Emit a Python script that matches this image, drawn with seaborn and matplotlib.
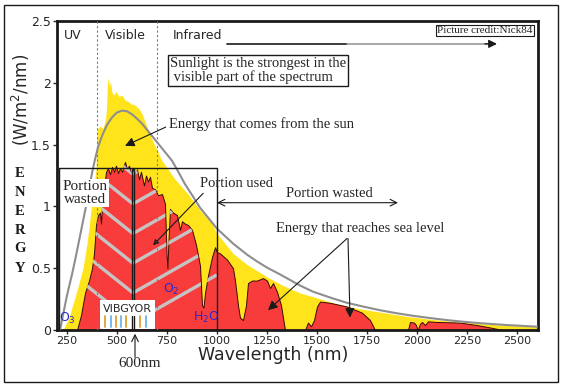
import matplotlib
matplotlib.use("Agg")
import matplotlib.pyplot as plt
import seaborn as sns
from matplotlib.patches import Rectangle

# ---------------- data ----------------
sun_wl = [230, 260, 300, 330, 350, 365, 380, 395, 400, 415, 430, 442, 448, 452, 457, 462,
          468, 475, 485, 495, 510, 525, 540, 555, 570, 590, 610, 625, 670, 725, 790, 855,
          915, 975, 1000, 1080, 1150, 1250, 1330, 1415, 1500, 1580, 1700, 1815, 1950,
          2050, 2200, 2400, 2600]
sun_energy = [0.0, 0.10, 0.32, 0.50, 0.70, 0.90, 1.12, 1.30, 1.62, 1.65, 1.63, 1.70, 1.80,
              2.00, 2.04, 1.97, 2.01, 1.92, 1.90, 1.93, 1.89, 1.90, 1.86, 1.85, 1.83, 1.82,
              1.79, 1.75, 1.56, 1.37, 1.22, 1.10, 0.97, 0.86, 0.78, 0.62, 0.53, 0.43, 0.36,
              0.30, 0.26, 0.22, 0.175, 0.145, 0.11, 0.09, 0.065, 0.042, 0.025]

sea_wl = [300, 320, 340, 360, 375, 385, 395, 405, 415, 420, 425, 435, 445, 455, 465, 475,
          485, 495, 505, 515, 525, 540, 550, 560, 570, 580, 590, 600, 610, 620, 635, 645,
          655, 665, 675, 690, 705, 725, 740, 748, 752, 758, 765, 780, 800, 815, 825, 840,
          855, 875, 895, 915, 925, 932, 940, 955, 975, 990, 1000, 1015, 1050, 1080, 1090,
          1105, 1115, 1130, 1145, 1155, 1175, 1200, 1230, 1250, 1265, 1280, 1300, 1320,
          1340, 1440, 1455, 1470, 1485, 1500, 1515, 1565, 1650, 1725, 1765, 1790, 1955,
          1965, 1985, 1995, 2003, 2015, 2025, 2040, 2055, 2100, 2215, 2300, 2380, 2430]
sea_energy = [0.0, 0.12, 0.30, 0.40, 0.50, 0.62, 0.85, 0.93, 0.95, 0.86, 1.00, 1.15, 1.28,
              1.31, 1.26, 1.32, 1.28, 1.33, 1.27, 1.31, 1.28, 1.36, 1.30, 1.33, 1.27, 1.31,
              1.26, 1.30, 1.22, 1.28, 1.17, 1.25, 1.20, 1.24, 1.15, 1.14, 1.09, 1.10, 1.02,
              0.60, 0.50, 0.75, 0.98, 0.95, 0.93, 0.81, 0.88, 0.86, 0.85, 0.81, 0.69, 0.52,
              0.20, 0.18, 0.30, 0.44, 0.59, 0.67, 0.63, 0.62, 0.57, 0.50, 0.40, 0.20, 0.10,
              0.08, 0.20, 0.38, 0.40, 0.40, 0.42, 0.40, 0.34, 0.38, 0.31, 0.20, 0.0, 0.0,
              0.06, 0.03, 0.08, 0.19, 0.23, 0.22, 0.19, 0.14, 0.08, 0.0, 0.0, 0.065, 0.06,
              0.04, 0.0, 0.05, 0.065, 0.04, 0.07, 0.065, 0.06, 0.04, 0.016, 0.0]

bb_wl = [215, 230, 250, 275, 295, 310, 330, 345, 360, 375, 390, 405, 425, 450, 475, 500,
         525, 550, 575, 600, 625, 660, 690, 730, 775, 810, 840, 880, 915, 960, 1000, 1040,
         1080, 1150, 1200, 1250, 1315, 1415, 1480, 1580, 1650, 1730, 1815, 1900, 1980,
         2050, 2150, 2230, 2315, 2450, 2600]
bb_energy = [0.0, 0.12, 0.28, 0.45, 0.60, 0.72, 0.88, 1.00, 1.14, 1.27, 1.38, 1.48, 1.57,
             1.66, 1.72, 1.76, 1.775, 1.77, 1.745, 1.71, 1.67, 1.60, 1.54, 1.46, 1.37, 1.27,
             1.18, 1.08, 0.99, 0.90, 0.82, 0.76, 0.70, 0.61, 0.555, 0.505, 0.45, 0.36, 0.31,
             0.255, 0.22, 0.19, 0.16, 0.135, 0.115, 0.10, 0.08, 0.067, 0.055, 0.04, 0.027]

x_ticks = [250, 500, 750, 1000, 1250, 1500, 1750, 2000, 2250, 2500]
y_ticks = [0, 0.5, 1, 1.5, 2, 2.5]
y_tick_labels = ["0", "0.5", "1", "1.5", "2", "2.5"]
chevron_vertices = [1.26, 1.02, 0.78, 0.54, 0.30, 0.06]
region_labels = ["UV", "Visible", "Infrared"]
energy_letters = ["E", "N", "E", "R", "G", "Y"]

# ---------------- styling ----------------
YELLOW = "#ffe41c"
RED = "#f83c3c"
GRAY = "#8e8e8e"
BLUE = "#2a2ac8"
SERIF = "Liberation Serif"
FS = 10.5

sns.set_theme(style="white")
plt.rcParams["font.family"] = ["DejaVu Sans"]

W, H = 563, 387
fig = plt.figure(figsize=(W / 100, H / 100), dpi=100)
ax = fig.add_axes([57 / W, 57 / H, 481 / W, 309 / H])

# yellow: energy from the sun
ax.fill_between(sun_wl, sun_energy, color=YELLOW, lw=0, zorder=1)
# red: energy at sea level
red = ax.fill_between(sea_wl, sea_energy, facecolor=RED, edgecolor="#3a0a0a", lw=0.7, zorder=2)
# gray: blackbody curve
sns.lineplot(x=bb_wl, y=bb_energy, ax=ax, color=GRAY, lw=1.5, sort=False, zorder=4)

# chevron stripes clipped to the red area
red_path = red.get_paths()[0]
xc = 580
for v in chevron_vertices:
    for xe, slope in ((250, 0.00129), (1000, 0.00092)):
        ln, = ax.plot([xc, xe], [v, v + slope * abs(xe - xc)], color="#c4c4c4",
                      lw=2.4, solid_capstyle="butt", zorder=3)
        ln.set_clip_path(red_path, red.get_transform())

# dotted region boundaries
for xv in (400, 700):
    ax.axvline(xv, color="#7a7a7a", lw=0.8, ls=(0, (2, 2)), zorder=3.5)

# box for used/wasted portions
ax.plot([210, 210, 1000, 1000], [0, 1.31, 1.31, 0], color="k", lw=1, zorder=5)
for xv in (573, 586):
    ax.plot([xv, xv], [0, 1.31], color="k", lw=1, zorder=5)

ax.set_xlim(200, 2605)
ax.set_ylim(0, 2.5)
ax.set_xticks(x_ticks)
ax.set_yticks(y_ticks)
ax.set_yticklabels(y_tick_labels)
ax.tick_params(axis="x", labelsize=8, length=3, width=1, direction="out", pad=1.5, bottom=True)
ax.tick_params(axis="y", labelsize=9, length=3, width=1, direction="out", pad=1.5, left=True)
for s in ax.spines.values():
    s.set_color("k")
    s.set_linewidth(2)
ax.set_xlabel("")
ax.set_ylabel("")

# top region labels
for lab, xv in zip(region_labels, (280, 540, 900)):
    ax.text(xv, 2.38, lab, ha="center", va="center", fontsize=9, zorder=6)
ax.plot([1050, 1650], [2.315, 2.315], color="k", lw=1.2, zorder=6)
ax.plot([1650, 2350], [2.315, 2.315], color="#9a9a9a", lw=1.2, zorder=6)
ax.annotate("", xy=(2400, 2.315), xytext=(2340, 2.315),
            arrowprops=dict(arrowstyle="-|>", color="k", lw=1.0, mutation_scale=12,
                            shrinkA=0, shrinkB=0), zorder=6)

ax.text(2340, 2.425, "Picture credit:Nick84", ha="center", va="center", fontsize=8,
        family=SERIF, bbox=dict(boxstyle="square,pad=0.08", fc="white", ec="k", lw=0.8), zorder=7)

ax.text(765, 2.10, "Sunlight is the strongest in the\n visible part of the spectrum",
        ha="left", va="center", fontsize=FS, family=SERIF, linespacing=1.0,
        bbox=dict(boxstyle="square,pad=0.15", fc="white", ec="k", lw=1), zorder=7)

ax.annotate("Energy that comes from the sun", xy=(540, 1.49), xytext=(760, 1.665),
            ha="left", va="center", fontsize=FS, family=SERIF, zorder=7,
            arrowprops=dict(arrowstyle="-|>", color="k", lw=0.8, mutation_scale=14,
                            shrinkA=0, shrinkB=0, relpos=(0, 0.4)))

ax.text(340, 1.11, "Portion\nwasted", ha="center", va="center", fontsize=11, family=SERIF,
        linespacing=0.95, bbox=dict(boxstyle="square,pad=0.08", fc="white", ec="none"), zorder=7)

ax.annotate("Portion used", xy=(680, 0.685), xytext=(1100, 1.185),
            ha="center", va="center", fontsize=FS, family=SERIF, zorder=7,
            arrowprops=dict(arrowstyle="-|>", color="k", lw=0.8, mutation_scale=8,
                            shrinkA=0, shrinkB=0, relpos=(0.08, 0.0), fc="none"))

ax.text(1560, 1.105, "Portion wasted", ha="center", va="center", fontsize=FS, family=SERIF, zorder=7)
ax.annotate("", xy=(1905, 1.03), xytext=(1000, 1.03),
            arrowprops=dict(arrowstyle="<->", color="k", lw=0.8, mutation_scale=12,
                            shrinkA=0, shrinkB=0), zorder=7)

ax.text(1715, 0.825, "Energy that reaches sea level", ha="center", va="center",
        fontsize=FS, family=SERIF, zorder=7)
ax.annotate("", xy=(1255, 0.16), xytext=(1650, 0.74),
            arrowprops=dict(arrowstyle="-|>", color="k", lw=0.8, mutation_scale=14,
                            shrinkA=0, shrinkB=0), zorder=7)
ax.annotate("", xy=(1665, 0.10), xytext=(1655, 0.74),
            arrowprops=dict(arrowstyle="-|>", color="k", lw=0.8, mutation_scale=14,
                            shrinkA=0, shrinkB=0), zorder=7)

# molecule labels
ax.text(250, 0.09, "O$_3$", color=BLUE, fontsize=9, ha="center", va="center", zorder=7)
ax.text(770, 0.33, "O$_2$", color=BLUE, fontsize=9, ha="center", va="center", zorder=7)
ax.text(945, 0.10, "H$_2$O", color=BLUE, fontsize=9, ha="center", va="center", zorder=7)

# VIBGYOR box
ax.add_patch(Rectangle((415, 0.005), 275, 0.235, fc="white", ec="none", zorder=5.5))
ax.text(552, 0.168, "VIBGYOR", ha="center", va="center", fontsize=8, zorder=6)
bar_colors = ["#e0a032", "#6ab4ea", "#e0a032", "#6ab4ea", "#e0a032", "#e0a032", "#6ab4ea"]
for xb, c in zip((440, 468, 493, 520, 546, 613, 645), bar_colors):
    ax.plot([xb, xb], [0.025, 0.11], color=c, lw=1.3, zorder=6)
for xv in (573, 586):
    ax.plot([xv, xv], [0, 0.115], color="k", lw=1, zorder=6)

# 600nm marker below the axis
ax.annotate("", xy=(590, -0.03), xytext=(590, -0.22), annotation_clip=False,
            arrowprops=dict(arrowstyle="->", color="k", lw=0.8, shrinkA=0, shrinkB=0))
ax.text(615, -0.27, "600nm", ha="center", va="center", fontsize=11, family=SERIF, clip_on=False)

# axis titles
fig.text(273 / W, 1 - 355 / H, "Wavelength (nm)", ha="center", va="center", fontsize=12.5)
fig.text(21 / W, 1 - 100 / H, "(W/m$^2$/nm)", ha="center", va="center", fontsize=12, rotation=90)
for i, letter in enumerate(energy_letters):
    fig.text(20 / W, 1 - (173 + 19 * i) / H, letter, ha="center", va="center", fontsize=10.5,
             family=SERIF, fontweight="bold", color="#1a1a1a")

# outer frame
fig.patches.append(Rectangle((4 / W, 5 / H), 554 / W, 377 / H, transform=fig.transFigure,
                             fill=False, ec="k", lw=1))

fig.savefig("out.png", dpi=100)
